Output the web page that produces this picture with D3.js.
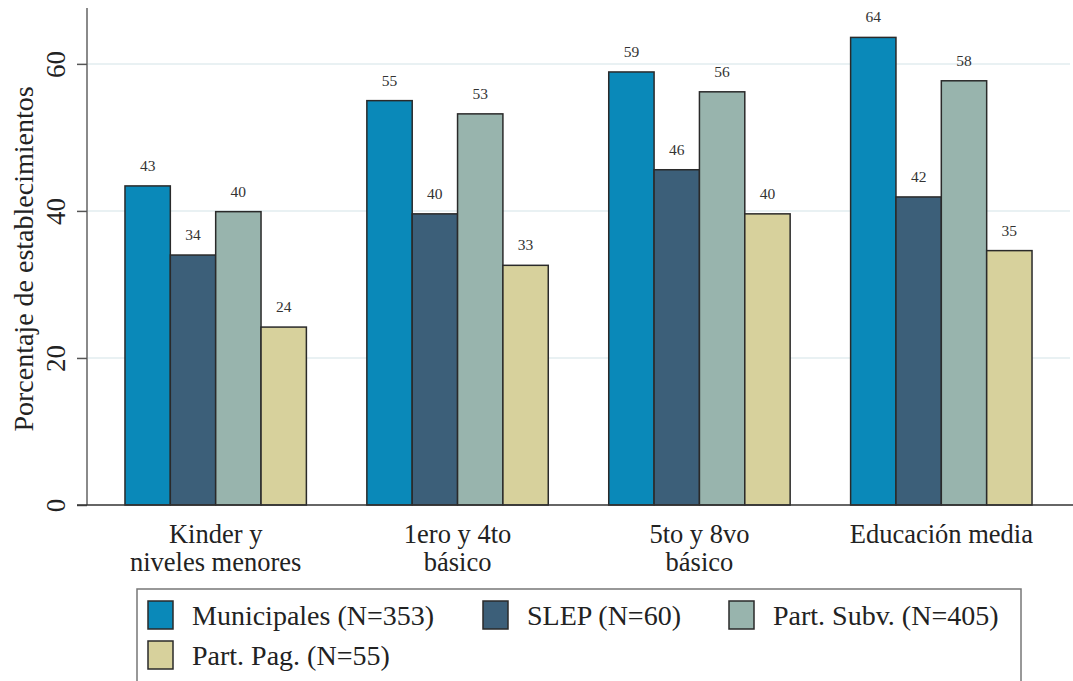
<!DOCTYPE html>
<html>
<head>
<meta charset="utf-8">
<script src="https://cdn.jsdelivr.net/npm/d3@7"></script>
<style>
    body { margin: 0; background: #fff; }
    text { font-family: "Liberation Serif", "Times New Roman", serif; }
</style>
</head>
<body>
<script>
// Categories and series
const categories = [["Kinder y", "niveles menores"], ["1ero y 4to", "básico"], ["5to y 8vo", "básico"], ["Educación media"]];
const seriesNames = ["Municipales (N=353)", "SLEP (N=60)", "Part. Subv. (N=405)", "Part. Pag. (N=55)"];
const municipales = [43.4, 55.0, 58.9, 63.6];
const slep = [34.0, 39.6, 45.6, 41.9];
const partSubv = [39.9, 53.2, 56.2, 57.7];
const partPag = [24.2, 32.6, 39.6, 34.6];
const yTicks = [0, 20, 40, 60];
const colors = ["#0a89b9", "#3c5f79", "#98b4ad", "#d7d19c"];

const seriesValues = [municipales, slep, partSubv, partPag];

const width = 1073, height = 681;
const svg = d3.select("body").append("svg")
    .attr("width", width)
    .attr("height", height);

const y = d3.scaleLinear().domain([0, 67.6]).range([505, 8]);
const x0 = d3.scaleBand()
    .domain(categories.map((d, i) => i))
    .range([87, 1070])
    .paddingInner(0.25)
    .paddingOuter(0.157);
const x1 = d3.scaleBand()
    .domain(seriesNames.map((d, i) => i))
    .range([0, x0.bandwidth()]);

// gridlines
svg.append("g")
    .selectAll("line")
    .data(yTicks.filter(d => d > 0))
    .enter().append("line")
    .attr("x1", 88).attr("x2", 1070)
    .attr("y1", d => y(d)).attr("y2", d => y(d))
    .attr("stroke", "#e9f1f3")
    .attr("stroke-width", 2);

// y axis
const yAxis = svg.append("g")
    .attr("transform", "translate(87,0)")
    .call(d3.axisLeft(y).tickValues(yTicks).tickSize(10));
yAxis.select(".domain").attr("stroke", "#8a8a8a").attr("stroke-width", 2)
    .attr("d", `M0,${y(0)}V8`);
yAxis.selectAll(".tick line").attr("stroke", "#555").attr("stroke-width", 1.5);
yAxis.selectAll(".tick text")
    .attr("font-size", 27)
    .attr("fill", "#222")
    .attr("transform", "rotate(-90)")
    .attr("x", 0)
    .attr("y", -22)
    .attr("dy", null)
    .attr("text-anchor", "middle");

svg.append("text")
    .attr("transform", "translate(33,259) rotate(-90)")
    .attr("text-anchor", "middle")
    .attr("font-size", 28)
    .attr("fill", "#222")
    .text("Porcentaje de establecimientos");

// bars
const groups = svg.append("g")
    .selectAll("g")
    .data(categories.map((c, i) => i))
    .enter().append("g")
    .attr("transform", i => `translate(${x0(i)},0)`);

groups.selectAll("rect")
    .data(i => seriesValues.map((s, k) => ({ k: k, v: s[i] })))
    .enter().append("rect")
    .attr("x", d => x1(d.k))
    .attr("y", d => y(d.v))
    .attr("width", x1.bandwidth())
    .attr("height", d => y(0) - y(d.v))
    .attr("fill", d => colors[d.k])
    .attr("stroke", "#2a2a2a")
    .attr("stroke-width", 1.5);

groups.selectAll("text")
    .data(i => seriesValues.map((s, k) => ({ k: k, v: s[i] })))
    .enter().append("text")
    .attr("x", d => x1(d.k) + x1.bandwidth() / 2)
    .attr("y", d => y(d.v) - 15)
    .attr("text-anchor", "middle")
    .attr("font-size", 15.5)
    .attr("fill", "#333")
    .text(d => Math.round(d.v));

// x axis baseline
svg.append("line")
    .attr("x1", 77).attr("x2", 1073)
    .attr("y1", y(0)).attr("y2", y(0))
    .attr("stroke", "#333")
    .attr("stroke-width", 1.5);

// x labels
const xl = svg.append("g")
    .selectAll("text")
    .data(categories)
    .enter().append("text")
    .attr("x", (d, i) => x0(i) + x0.bandwidth() / 2)
    .attr("y", 543)
    .attr("text-anchor", "middle")
    .attr("font-size", 26.5)
    .attr("fill", "#222");
xl.selectAll("tspan")
    .data(d => d)
    .enter().append("tspan")
    .attr("x", function() { return d3.select(this.parentNode).attr("x"); })
    .attr("dy", (d, i) => i === 0 ? 0 : 28)
    .text(d => d);

// legend
const legend = svg.append("g");
legend.append("rect")
    .attr("x", 137).attr("y", 589)
    .attr("width", 884).attr("height", 100)
    .attr("fill", "#fff")
    .attr("stroke", "#777")
    .attr("stroke-width", 1.5);

const legendPos = [[148, 601], [483, 601], [729, 601], [148, 641]];
const items = legend.selectAll("g.item")
    .data(seriesNames)
    .enter().append("g")
    .attr("class", "item")
    .attr("transform", (d, i) => `translate(${legendPos[i][0]},${legendPos[i][1]})`);
items.append("rect")
    .attr("width", 25).attr("height", 28)
    .attr("fill", (d, i) => colors[i])
    .attr("stroke", "#2a2a2a")
    .attr("stroke-width", 1.5);
items.append("text")
    .attr("x", 44).attr("y", 24)
    .attr("font-size", 28)
    .attr("fill", "#222")
    .text(d => d);
</script>
</body>
</html>
